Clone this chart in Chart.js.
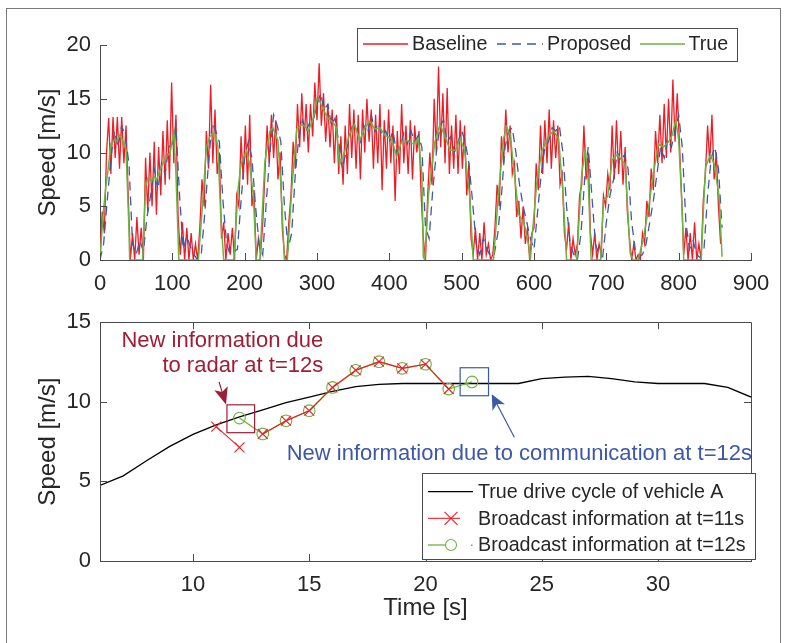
<!DOCTYPE html>
<html>
<head>
<meta charset="utf-8">
<script src="https://cdn.jsdelivr.net/npm/chart.js@4.4.0/dist/chart.umd.min.js"></script>
<style>
html,body{margin:0;padding:0;background:#fff;}
body{width:787px;height:643px;position:relative;overflow:hidden;}
#frame{position:absolute;left:6px;top:8px;width:775px;height:660px;border:1.3px solid #7a7a7a;box-sizing:border-box;}
canvas{position:absolute;left:0;}
#top{top:0;}
#bot{top:300px;}
</style>
</head>
<body>
<div id="frame"></div>
<canvas id="top" width="787" height="300"></canvas>
<canvas id="bot" width="787" height="343"></canvas>
<script>
// ---- top plot: speed over the whole drive cycle ----
const topXTicks = [0, 100, 200, 300, 400, 500, 600, 700, 800, 900];
const topYTicks = [0, 5, 10, 15, 20];
const topLabels = ['Baseline', 'Proposed', 'True'];

// true speed, read at the corners of the curve
const trueT = [0,4,8,11,15,20,24,27,30,33,36,40,41,59,63,66,71,75,78,82,85,92,97,102,105,109,136,143,147,152,156,160,163,167,171,185,191,195,199,203,207,212,216,221,228,235,239,246,250,253,255,259,265,272,279,284,288,295,300,303,308,315,322,327,331,336,345,352,359,366,373,380,387,394,403,410,417,424,433,440,445,447,449,454,463,470,477,484,491,498,504,511,516,544,551,558,562,567,574,579,586,593,595,597,604,611,620,627,634,640,645,659,666,671,675,679,692,696,702,708,715,719,726,733,737,744,751,758,765,772,779,786,791,796,800,805,807,831,837,844,849,856,860];
const trueV = [0,4,6.8,8.3,10.8,11.2,11.1,11.6,11.3,10.9,10.2,3,0,0,6.8,7.6,7.3,7.8,7.4,8.2,8.7,9.6,10,11.9,8,0,0,6.3,10.5,11.5,11.8,11.6,10.5,4,0,0,6.7,8.9,9.6,10.2,8.8,6,0,0,9.2,12,12.3,11.1,7,2.8,0,0,6.5,12.2,12.6,12.4,12,13.2,15,14.9,14.1,13.2,12.8,12.3,8.8,9.6,11.7,12.6,11.1,12.3,12.9,12.2,12.3,11.6,11.3,9.6,11,11.1,10.8,11.3,8,0.3,0,6,11,12.6,11.5,10.2,10.2,11.3,10.2,6,0,0,6.3,11.3,12.4,11.7,7.3,4.2,3.5,1.2,0,1.9,7.3,10.2,11.5,12,11.3,6.3,0,0,8,10.3,7.3,0,0,5.6,5.9,9.3,9.8,9.5,8.9,0.6,0,0,1.9,4.7,8,10.8,10.5,11,11.6,13,11.2,4.5,0,0,8.6,9.8,8.9,5.9,0.3];

// proposed estimate, one reading every 5 s
const propStep = 5;
const propV = [0,1.5,5.5,9.5,12,10.5,12.5,11.5,9,1.5,
  0.5,1.8,0.8,4,6,8.5,6.5,9,8,10.5,
  10.8,12.5,6,1,2.2,1.2,0.5,0,0.5,4.5,
  9,12.8,12,11,5.5,1.5,0.5,0.8,1,5.5,
  9.5,11,9.5,5,1.5,0.5,5.5,10,13.5,12.5,
  11,5,1,2.5,8,11.5,13,12,12.8,13,
  14.5,15.5,14,14.5,12.5,13.2,11,8.5,10,11.5,
  12.8,12,11,12.5,11.8,13.5,12,12.8,11.5,12,
  11,12,10,10.5,11.8,10.8,12,11,11.6,10.5,
  3,2,6.5,10,12.5,13,11,11.5,10,11,
  12,11,9,5.5,1.5,0.5,2,1,0.3,0.5,
  2.5,6,10.5,12,12.3,10,7,5,3.5,2,
  1,4.5,8,10.5,11,12.3,12,12.5,10,5,
  1.5,0.5,0,2.5,7.5,10.5,6,1.5,0.5,0.3,
  3.5,6,7.5,10,9.2,9.8,8.5,3.5,1,0.3,
  0.5,1.5,3.5,5.5,8,10.5,9.5,11.2,10.5,12,
  13.5,10.5,3.5,1,1.8,0.5,0.2,1,6,9.5,
  10.5,8.5,3];

// baseline estimate, one reading every 3 s
const baseStep = 3;
const baseV = [0,4.5,2.5,10,13.2,8,13.3,9.5,13.3,8.5,
  13.3,9,12.5,6,0,2.5,0,4,0.5,3,
  0,9.5,4.5,10,5,11,4.2,10.5,6,12,
  7,13,7.5,16.5,9,13.5,4,0.5,3.5,0,
  3,0,2.5,0,1.5,0,3,7.5,5,12,
  8.5,16.3,9,14,8,10,2,3.5,0,2.5,
  0.5,3,0,6,5,11.5,7.5,12.5,7,13.5,
  5,6.5,0,2,0.5,3.5,8,12.5,9,13.5,
  9.5,13,7.5,10,3,0.5,0,3.5,6,11,
  8.5,14.5,10.5,15.5,11,14.5,10,14.5,11.5,16.5,
  13,18.3,12.5,15.5,11,14.5,10.5,14,9,13.5,
  8,11.5,7,12.5,8,14.5,9.5,14,8.5,13.5,
  7.5,14,10,15,11,14,8.5,13.5,9,14.5,
  6.5,13,8.5,14,9,12.5,5.5,12,8,14.5,
  9,12.5,8,13,7.5,12.5,10,12,6,2,
  0,6,10,7,15,10,18,10.5,15.5,9,
  16,8,12.5,8.5,13.5,8,13,8.5,12.5,6,
  9,2,0.5,3,0,2.5,0,3.5,0.5,1.5,
  0,0.5,3,7,5,11.5,9,14,10,12.5,
  8,9,4,5.5,2,5,1.5,3,0,2.5,
  3,9,6.5,12.5,8,13,9,14,8.5,13,
  9.5,12.5,7,8,2.5,1,3.5,0,2,0.5,
  1.5,6,7,12.5,7.5,10,2.5,0.5,2.5,0,
  1.5,0.5,6,5,8,6.5,12.5,7.5,13,8,
  12,7,10.5,4.5,2,0,1.5,0,0.5,0,
  2.5,1.5,5.5,4,8.5,6.5,12,9,13.5,9,
  14.5,9.5,15,10,16.8,11,15.5,11,6,0.5,
  3,0,2.5,0,3.5,0,1.5,0,5.5,8,
  12.5,9,13.5,7.5,10,5,1.5];

// ---- bottom plot: zoom on t = 6..34 s ----
const botXTicks = [10, 15, 20, 25, 30];
const botYTicks = [0, 5, 10, 15];
const botLabels = ['True drive cycle of vehicle A', 'Broadcast information at t=11s', 'Broadcast information at t=12s'];
const cycleT = [6,7,8,9,10,11,12,13,14,15,16,17,18,19,20,21,22,23,24,25,26,27,28,29,30,31,32,33,34];
const cycleV = [4.75,5.35,6.3,7.2,7.95,8.55,9.05,9.5,9.95,10.3,10.65,10.95,11.1,11.15,11.15,11.15,11.15,11.15,11.15,11.45,11.55,11.6,11.45,11.25,11.15,11.15,11.15,10.9,10.3];
const b11T = [11,12,13,14,15,16,17,18,19,20,21];
const b11V = [8.44,7.14,7.98,8.81,9.44,10.9,11.98,12.52,12.1,12.36,10.8];
const b12T = [12,13,14,15,16,17,18,19,20,21,22];
const b12V = [8.98,7.98,8.81,9.44,10.9,11.98,12.52,12.1,12.36,10.8,11.25];

const FONT = '"Liberation Sans", Arial, Helvetica, sans-serif';
const TXT = '#262626', AX = '#4a4a4a';
const RED = '#ee1d24', BLUE = '#3d5aa8', GREEN = '#6cb33f';
const DRED = '#9f1d35', DBLUE = '#3c58a8';

const pts = (xs, ys) => xs.map((x, i) => ({x: x, y: ys[i]}));
const stepPts = (ys, st) => ys.map((y, i) => ({x: i * st, y: y}));
const fixTicks = arr => s => { s.ticks = arr.map(v => ({value: v})); };

// MATLAB style inward ticks (+ box for the lower axes)
const inTicks = {
  id: 'inTicks',
  afterDatasetsDraw(chart, args, opts) {
    const ctx = chart.ctx, a = chart.chartArea, xs = chart.scales.x, ys = chart.scales.y, L = 7;
    ctx.save();
    ctx.strokeStyle = AX; ctx.lineWidth = 1;
    ctx.beginPath();
    xs.ticks.forEach(t => {
      const p = Math.round(xs.getPixelForValue(t.value)) + 0.5;
      ctx.moveTo(p, a.bottom); ctx.lineTo(p, a.bottom - L);
      if (opts.box) { ctx.moveTo(p, a.top); ctx.lineTo(p, a.top + L); }
    });
    ys.ticks.forEach(t => {
      const p = Math.round(ys.getPixelForValue(t.value)) + 0.5;
      ctx.moveTo(a.left, p); ctx.lineTo(a.left + L, p);
      if (opts.box) { ctx.moveTo(a.right, p); ctx.lineTo(a.right - L, p); }
    });
    if (opts.box) ctx.rect(Math.round(a.left) + 0.5, Math.round(a.top) + 0.5, Math.round(a.right - a.left), Math.round(a.bottom - a.top));
    ctx.stroke();
    ctx.restore();
  }
};

function marker(ctx, kind, x, y, r) {
  ctx.beginPath();
  if (kind === 'x') {
    ctx.moveTo(x - r, y - r); ctx.lineTo(x + r, y + r);
    ctx.moveTo(x - r, y + r); ctx.lineTo(x + r, y - r);
  } else if (kind === 'o') {
    ctx.arc(x, y, r, 0, Math.PI * 2);
  }
  ctx.stroke();
}

// boxed legend drawn like the original figure
const mlLegend = {
  id: 'mlLegend',
  afterDraw(chart, args, L) {
    const ctx = chart.ctx;
    ctx.save();
    ctx.fillStyle = '#fff';
    ctx.fillRect(L.x, L.y, L.w, L.h);
    ctx.strokeStyle = AX; ctx.lineWidth = 1;
    ctx.strokeRect(L.x + 0.5, L.y + 0.5, L.w, L.h);
    L.items.forEach((it, i) => {
      const ds = chart.data.datasets[it.ds];
      ctx.save();
      ctx.strokeStyle = ds.borderColor; ctx.lineWidth = ds.borderWidth;
      ctx.setLineDash(ds.borderDash || []);
      ctx.beginPath(); ctx.moveTo(it.x0, it.y); ctx.lineTo(it.x1, it.y); ctx.stroke();
      ctx.setLineDash([]);
      if (it.mk) { ctx.lineWidth = 1.1; marker(ctx, it.mk, it.mx, it.y, it.mr); }
      if (it.dot) { ctx.fillStyle = ds.borderColor; ctx.fillRect(it.dot, it.y - 0.5, 1.5, 1.5); }
      ctx.restore();
      ctx.font = L.size + 'px ' + FONT;
      ctx.fillStyle = TXT; ctx.textBaseline = 'middle'; ctx.textAlign = 'left';
      ctx.fillText(ds.label, it.tx, it.y + 1);
    });
    ctx.restore();
  }
};

function arrow(ctx, x0, y0, x1, y1, color, hl, hw) {
  const dx = x1 - x0, dy = y1 - y0, len = Math.hypot(dx, dy);
  const ux = dx / len, uy = dy / len, nx = -uy, ny = ux, notch = 4;
  ctx.save();
  ctx.strokeStyle = color; ctx.fillStyle = color; ctx.lineWidth = 1.2;
  ctx.beginPath(); ctx.moveTo(x0, y0); ctx.lineTo(x1 - ux * (hl - notch), y1 - uy * (hl - notch)); ctx.stroke();
  ctx.beginPath();
  ctx.moveTo(x1, y1);
  ctx.lineTo(x1 - ux * hl + nx * hw, y1 - uy * hl + ny * hw);
  ctx.lineTo(x1 - ux * (hl - notch), y1 - uy * (hl - notch));
  ctx.lineTo(x1 - ux * hl - nx * hw, y1 - uy * hl - ny * hw);
  ctx.closePath(); ctx.fill();
  ctx.restore();
}

// boxes, arrows and notes of the lower axes (positions in data units)
const notes = {
  id: 'notes',
  afterDatasetsDraw(chart) {
    const ctx = chart.ctx, xs = chart.scales.x, ys = chart.scales.y;
    const X = v => xs.getPixelForValue(v), Y = v => ys.getPixelForValue(v);
    ctx.save();
    ctx.lineWidth = 1.2;
    ctx.strokeStyle = DRED;
    ctx.strokeRect(X(11.46), Y(9.81), X(12.65) - X(11.46), Y(8.06) - Y(9.81));
    ctx.strokeStyle = DBLUE;
    ctx.strokeRect(X(21.49), Y(12.14), X(22.71) - X(21.49), Y(10.38) - Y(12.14));
    arrow(ctx, X(11.12), Y(11.25), X(11.42), Y(9.83), DRED, 17, 7);
    arrow(ctx, X(23.82), Y(7.77), X(22.85), Y(10.48), DBLUE, 15, 7);
    ctx.font = '22px ' + FONT;
    ctx.textBaseline = 'middle';
    ctx.fillStyle = DRED; ctx.textAlign = 'right';
    ctx.fillText('New information due', X(15.6), Y(13.85));
    ctx.fillText('to radar at t=12s', X(15.6), Y(12.25));
    ctx.fillStyle = DBLUE; ctx.textAlign = 'left';
    ctx.fillText('New information due to communication at t=12s', X(14.03), Y(6.73));
    ctx.restore();
  }
};

function axis(min, max, tickArr, fit, pad, title, titlePad) {
  const o = {
    type: 'linear', min: min, max: max,
    afterBuildTicks: fixTicks(tickArr),
    grid: {display: false, drawTicks: false},
    border: {display: true, color: AX, width: 1},
    ticks: {color: TXT, font: {family: FONT, size: 22}, padding: pad, maxRotation: 0, autoSkip: false}
  };
  o.afterFit = fit;
  if (title) o.title = {display: true, text: title, color: TXT, font: {family: FONT, size: 24}, padding: titlePad};
  return o;
}

new Chart(document.getElementById('top'), {
  type: 'line',
  data: {datasets: [
    {label: topLabels[0], data: stepPts(baseV, baseStep), borderColor: RED, borderWidth: 1.3, pointRadius: 0, tension: 0, order: 3},
    {label: topLabels[1], data: stepPts(propV, propStep), borderColor: BLUE, borderWidth: 1.3, borderDash: [9, 6], pointRadius: 0, tension: 0, order: 2},
    {label: topLabels[2], data: pts(trueT, trueV), borderColor: GREEN, borderWidth: 1.5, pointRadius: 0, tension: 0, order: 1}
  ]},
  options: {
    responsive: false, animation: false, events: [],
    layout: {padding: {left: 0, right: 36, top: 45, bottom: 0}},
    plugins: {
      legend: {display: false}, tooltip: {enabled: false},
      inTicks: {box: false},
      mlLegend: {x: 357, y: 28, w: 380, h: 33, size: 19.7, items: [
        {ds: 0, x0: 363, x1: 408, y: 44, tx: 412},
        {ds: 1, x0: 497, x1: 543, y: 44, tx: 547},
        {ds: 2, x0: 640, x1: 685, y: 44, tx: 688.5}
      ]}
    },
    scales: {
      x: axis(0, 900, topXTicks, s => { s.height = 40; }, 11),
      y: axis(0, 20, topYTicks, s => { s.width = 100; }, 9, 'Speed [m/s]', {top: 34})
    }
  },
  plugins: [inTicks, mlLegend]
});

new Chart(document.getElementById('bot'), {
  type: 'line',
  data: {datasets: [
    {label: botLabels[0], data: pts(cycleT, cycleV), borderColor: '#000', borderWidth: 1.3, pointRadius: 0, tension: 0, order: 3},
    {label: botLabels[1], data: pts(b11T, b11V), borderColor: RED, borderWidth: 1.1, tension: 0, order: 1,
      pointStyle: 'crossRot', pointRadius: 7, pointBorderWidth: 1.1, pointBorderColor: RED,
      segment: {borderColor: c => c.p0DataIndex === 1 ? 'rgba(0,0,0,0)' : RED}},
    {label: botLabels[2], data: pts(b12T, b12V), borderColor: GREEN, borderWidth: 1.3, tension: 0, order: 2,
      pointStyle: 'circle', pointRadius: 5.8, pointBorderWidth: 1.1, pointBorderColor: GREEN, pointBackgroundColor: 'rgba(0,0,0,0)'}
  ]},
  options: {
    responsive: false, animation: false, events: [],
    layout: {padding: {left: 0, right: 36, top: 21, bottom: 0}},
    plugins: {
      legend: {display: false}, tooltip: {enabled: false},
      inTicks: {box: true},
      mlLegend: {x: 422, y: 173, w: 333, h: 86, size: 19.7, items: [
        {ds: 0, x0: 428, x1: 473, y: 191.7, tx: 478},
        {ds: 1, x0: 428, x1: 460, y: 218.3, tx: 478, mk: 'x', mx: 451, mr: 6.5},
        {ds: 2, x0: 428, x1: 446, y: 245, tx: 478, mk: 'o', mx: 451, mr: 5.5, dot: 471}
      ]}
    },
    scales: {
      x: axis(6, 34, botXTicks, s => { s.height = 82; }, 11, 'Time [s]', {bottom: 20}),
      y: axis(0, 15, botYTicks, s => { s.width = 100; }, 9, 'Speed [m/s]', {top: 34})
    }
  },
  plugins: [inTicks, notes, mlLegend]
});
</script>
</body>
</html>
